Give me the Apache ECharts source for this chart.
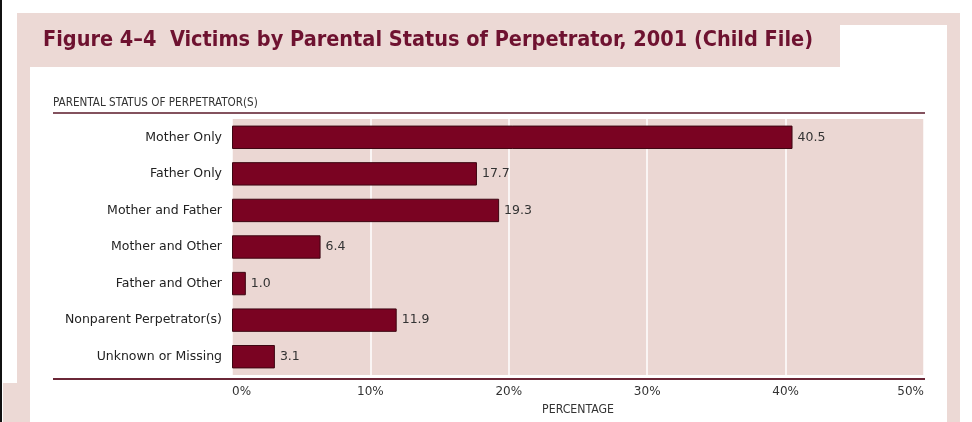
<!DOCTYPE html>
<html>
<head>
<meta charset="utf-8">
<script src="https://cdn.jsdelivr.net/npm/echarts@6/dist/echarts.min.js"></script>
<style>
html,body{margin:0;padding:0;background:#ffffff;}
#chart{width:972px;height:422px;}
</style>
</head>
<body>
<div id="chart"></div>
<script>
const titleText = 'Figure 4\u20134  Victims by Parental Status of Perpetrator, 2001 (Child File)';
const categoryAxisTitle = 'PARENTAL STATUS OF PERPETRATOR(S)';
const valueAxisTitle = 'PERCENTAGE';
const categories = ['Mother Only', 'Father Only', 'Mother and Father', 'Mother and Other', 'Father and Other', 'Nonparent Perpetrator(s)', 'Unknown or Missing'];
const percentages = [40.5, 17.7, 19.3, 6.4, 1.0, 11.9, 3.1];
const axisMin = 0, axisMax = 50, axisStep = 10;

const PINK = '#ecd9d5';
const MAROON = '#7a0322';

const chart = echarts.init(document.getElementById('chart'), null, {renderer: 'canvas'});
chart.setOption({
  animation: false,
  backgroundColor: '#ffffff',
  title: [
    {
      text: titleText, left: 43, top: 29, padding: 0,
      textStyle: {fontFamily: "'Liberation Sans Narrow', 'DejaVu Sans Condensed', sans-serif", fontWeight: 'bold', fontSize: 21.5, color: '#6e1230'}
    },
    {
      text: categoryAxisTitle, left: 53, top: 97, padding: 0,
      textStyle: {fontFamily: "'DejaVu Sans Condensed', 'Liberation Sans Narrow', sans-serif", fontWeight: 'normal', fontSize: 11.6, color: '#333333'}
    }
  ],
  graphic: [
    {type: 'rect', z: -100, silent: true, shape: {x: 17, y: 13, width: 943, height: 409}, style: {fill: PINK}},
    {type: 'rect', z: -99, silent: true, shape: {x: 30, y: 67, width: 917, height: 355}, style: {fill: '#ffffff'}},
    {type: 'rect', z: -99, silent: true, shape: {x: 840, y: 25, width: 107, height: 42}, style: {fill: '#ffffff'}},
    {type: 'rect', z: -99, silent: true, shape: {x: 3, y: 383, width: 14, height: 39}, style: {fill: PINK}},
    {type: 'rect', z: -99, silent: true, shape: {x: 0, y: 0, width: 2, height: 422}, style: {fill: '#111111'}},
    {type: 'rect', z: -99, silent: true, shape: {x: 960, y: 0, width: 12, height: 422}, style: {fill: '#ffffff'}},
    {type: 'line', z: 10, silent: true, shape: {x1: 53, y1: 113, x2: 925, y2: 113}, style: {stroke: '#5a1828', lineWidth: 1.5}},
    {type: 'line', z: 10, silent: true, shape: {x1: 53, y1: 379, x2: 925, y2: 379}, style: {stroke: '#6b2737', lineWidth: 2}}
  ],
  grid: {left: 232, top: 119, width: 692, height: 256, show: true, backgroundColor: '#ebd7d3', borderWidth: 0, containLabel: false},
  xAxis: {
    type: 'value', min: axisMin, max: axisMax, interval: axisStep,
    name: valueAxisTitle, nameLocation: 'middle', nameGap: 29,
    nameTextStyle: {fontFamily: "'DejaVu Sans Condensed', 'Liberation Sans Narrow', sans-serif", fontSize: 12.2, color: '#333333'},
    axisLine: {show: false}, axisTick: {show: false},
    splitLine: {show: true, lineStyle: {color: '#ffffff', width: 1.5}},
    axisLabel: {formatter: '{value}%', fontFamily: 'DejaVu Sans', fontSize: 12, color: '#333333', margin: 11, alignMinLabel: 'left', alignMaxLabel: 'right'}
  },
  yAxis: {
    type: 'category', data: categories, inverse: true,
    axisLine: {show: false}, axisTick: {show: false}, splitLine: {show: false},
    axisLabel: {fontFamily: 'DejaVu Sans', fontSize: 12.5, color: '#222222', margin: 10}
  },
  series: [{
    type: 'bar', data: percentages, barWidth: '64%',
    itemStyle: {color: MAROON, borderColor: '#3d0612', borderWidth: 1},
    label: {show: true, position: 'right', distance: 5, fontFamily: 'DejaVu Sans', fontSize: 12.5, color: '#333333',
      formatter: p => p.value.toFixed(1)}
  }]
});
</script>
</body>
</html>
